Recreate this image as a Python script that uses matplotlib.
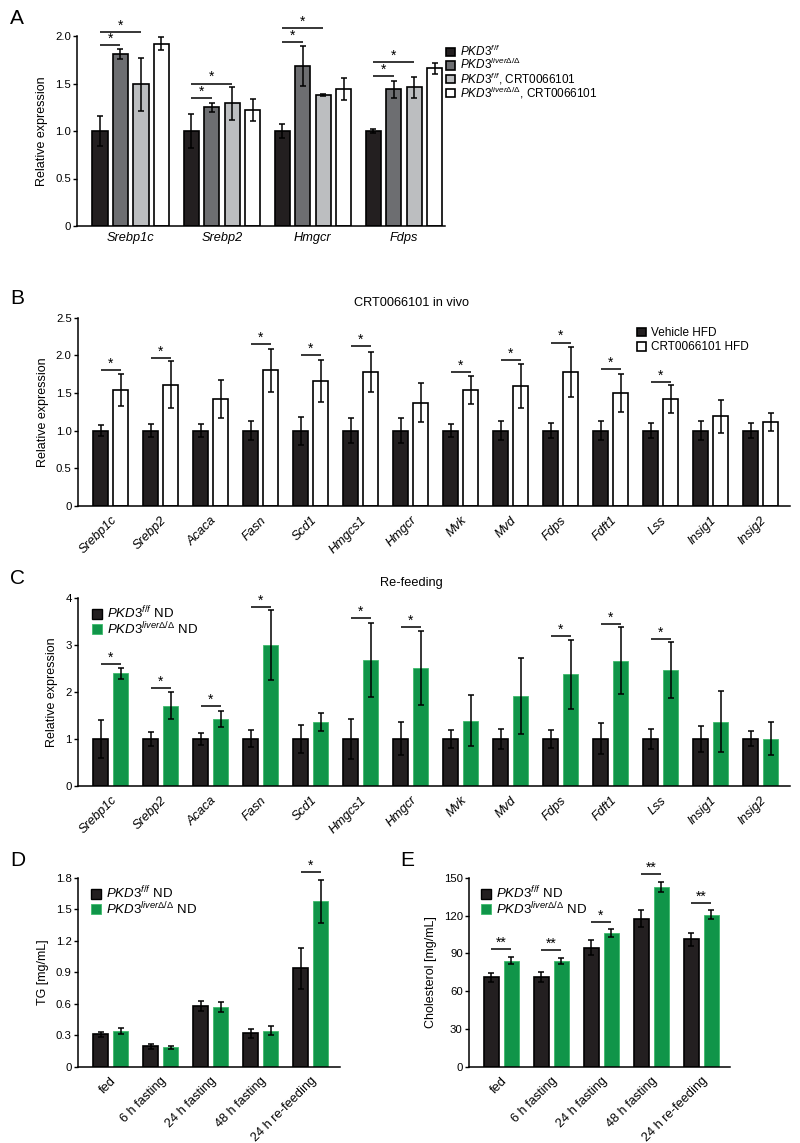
import numpy as np
import matplotlib
matplotlib.use("Agg")
import matplotlib.pyplot as plt
from matplotlib.patches import Patch

plt.rcParams['font.family'] = ['Liberation Sans', 'DejaVu Sans']
plt.rcParams['mathtext.fontset'] = 'custom'
plt.rcParams['mathtext.rm'] = 'Liberation Sans'
plt.rcParams['mathtext.it'] = 'Liberation Sans:italic'
plt.rcParams['mathtext.bf'] = 'Liberation Sans:bold'

DARK = '#231f20'
GRAY = '#6d6e71'
LIGHT = '#bcbec0'
GREEN = '#109549'
GREEN_EDGE = '#3dbb6c'

FF = r'$\mathit{PKD3}^{f/f}$'
LD = r'$\mathit{PKD3}^{\mathit{liver}\Delta/\Delta}$'

# --- panel A -----------------------------------------------------------------
a_genes = ['Srebp1c', 'Srebp2', 'Hmgcr', 'Fdps']
a_groups = [FF, LD, FF + ', CRT0066101', LD + ', CRT0066101']
a_mean = [[1.00, 1.00, 1.00, 1.00],
          [1.81, 1.25, 1.68, 1.44],
          [1.49, 1.29, 1.38, 1.46],
          [1.92, 1.22, 1.44, 1.66]]
a_err = [[0.16, 0.18, 0.07, 0.02],
         [0.05, 0.05, 0.21, 0.09],
         [0.28, 0.17, 0.01, 0.11],
         [0.07, 0.12, 0.115, 0.06]]
a_sig_gene = [0, 0, 1, 1, 2, 2, 3, 3]
a_sig_bar = [1, 2, 1, 2, 1, 2, 1, 2]
a_sig_y = [1.905, 2.046, 1.344, 1.50, 1.94, 2.08, 1.58, 1.726]

# --- panels B and C ----------------------------------------------------------
genes = ['Srebp1c', 'Srebp2', 'Acaca', 'Fasn', 'Scd1', 'Hmgcs1', 'Hmgcr',
         'Mvk', 'Mvd', 'Fdps', 'Fdft1', 'Lss', 'Insig1', 'Insig2']

b_veh = [1.0, 1.0, 1.0, 1.0, 1.0, 1.0, 1.0, 1.0, 1.0, 1.0, 1.0, 1.0, 1.0, 1.0]
b_veh_err = [0.075, 0.09, 0.09, 0.13, 0.185, 0.17, 0.17, 0.09, 0.13, 0.10,
             0.13, 0.10, 0.13, 0.10]
b_crt = [1.54, 1.61, 1.42, 1.80, 1.66, 1.78, 1.37, 1.54, 1.59, 1.78, 1.50,
         1.42, 1.19, 1.12]
b_crt_err = [0.21, 0.31, 0.255, 0.29, 0.28, 0.27, 0.26, 0.185, 0.295, 0.33,
             0.255, 0.18, 0.22, 0.12]
b_sig_gene = [0, 1, 3, 4, 5, 7, 8, 9, 10, 11]
b_sig_y = [1.81, 1.97, 2.15, 2.00, 2.12, 1.78, 1.94, 2.17, 1.82, 1.65]

c_ff = [1.0, 1.0, 1.0, 1.0, 1.0, 1.0, 1.0, 1.0, 1.0, 1.0, 1.0, 1.0, 1.0, 1.0]
c_ff_err = [0.41, 0.14, 0.12, 0.18, 0.30, 0.42, 0.35, 0.20, 0.22, 0.20,
            0.33, 0.22, 0.27, 0.16]
c_ko = [2.39, 1.71, 1.43, 2.99, 1.36, 2.67, 2.51, 1.39, 1.91, 2.37, 2.66,
        2.46, 1.37, 1.00]
c_ko_err = [0.12, 0.29, 0.17, 0.74, 0.19, 0.79, 0.79, 0.54, 0.81, 0.73,
            0.71, 0.59, 0.64, 0.35]
c_sig_gene = [0, 1, 2, 3, 5, 6, 9, 10, 11]
c_sig_y = [2.59, 2.09, 1.70, 3.81, 3.56, 3.38, 3.18, 3.45, 3.13]

# --- panels D and E ----------------------------------------------------------
conds = ['fed', '6 h fasting', '24 h fasting', '48 h fasting', '24 h re-feeding']
d_ff = [0.308, 0.194, 0.578, 0.317, 0.937]
d_ff_err = [0.027, 0.022, 0.043, 0.04, 0.195]
d_ko = [0.337, 0.184, 0.565, 0.343, 1.575]
d_ko_err = [0.03, 0.015, 0.047, 0.04, 0.205]
d_sig_cond = [4]
d_sig_y = [1.854]
d_sig_lab = ['*']

e_ff = [70.9, 71.4, 94.6, 117.4, 101.0]
e_ff_err = [3.8, 3.9, 5.6, 6.8, 5.0]
e_ko = [84.1, 83.6, 105.8, 142.3, 120.6]
e_ko_err = [2.9, 2.4, 3.2, 4.0, 3.7]
e_sig_cond = [0, 1, 2, 3, 4]
e_sig_y = [93.1, 92.6, 114.6, 152.9, 130.2]
e_sig_lab = ['**', '**', '*', '**', '**']

TICK = 8.2
XLAB = 9.2


def style(ax, yticks, ylabels, ylabel, xmin, xmax):
    ax.spines['top'].set_visible(False)
    ax.spines['right'].set_visible(False)
    ax.spines['left'].set_linewidth(1.1)
    ax.spines['bottom'].set_linewidth(1.1)
    ax.set_ylim(yticks[0], yticks[-1])
    ax.set_yticks(yticks)
    ax.set_yticklabels(ylabels, fontsize=TICK)
    ax.set_xlim(xmin, xmax)
    ax.tick_params(axis='y', length=3, width=1, pad=1.5)
    ax.tick_params(axis='x', length=0)
    ax.set_ylabel(ylabel, fontsize=9, labelpad=5)


def sig(ax, x0, x1, y, label='*'):
    ax.plot([x0, x1], [y, y], color='black', lw=1.1, clip_on=False,
            solid_capstyle='butt')
    ax.annotate(label, ((x0 + x1) / 2, y), xytext=(0, -0.5),
                textcoords='offset points', ha='center', va='bottom',
                fontsize=10, annotation_clip=False)


def bars(ax, x, mean, err, color, edge, width, lw):
    ax.bar(x, mean, width=width, color=color, edgecolor=edge, linewidth=lw,
           zorder=2)
    ax.errorbar(x, mean, yerr=err, fmt='none', ecolor='black',
                elinewidth=1.1, capsize=2.2, capthick=1.1, zorder=3)


def legend(ax, handles, labels, x, y, size=8.5, spacing=0.2):
    ax.legend(handles, labels, loc='upper left', bbox_to_anchor=(x, y),
              bbox_transform=ax.figure.transFigure, frameon=False,
              fontsize=size, handlelength=0.75, handleheight=0.75,
              handletextpad=0.4, labelspacing=spacing, borderpad=0,
              borderaxespad=0)


fig = plt.figure(figsize=(8, 11.43), dpi=100)
W, H = 800.0, 1143.0


def axes_px(left, right, top, bottom):
    return fig.add_axes([left / W, 1 - bottom / H, (right - left) / W,
                         (bottom - top) / H])


# ---- A ----
ax = axes_px(77, 445, 36, 226)
xa = np.arange(len(a_genes))
a_colors = [DARK, GRAY, LIGHT, 'white']
a_off = [-0.3375, -0.1125, 0.1125, 0.3375]
for i in range(4):
    bars(ax, xa + a_off[i], a_mean[i], a_err[i], a_colors[i], 'black',
         0.165, 1.2)
for g, b, y in zip(a_sig_gene, a_sig_bar, a_sig_y):
    sig(ax, g + a_off[0], g + a_off[b], y)
style(ax, [0, 0.5, 1.0, 1.5, 2.0], ['0', '0.5', '1.0', '1.5', '2.0'],
      'Relative expression', -0.59, 3.45)
ax.set_xticks(xa)
ax.set_xticklabels(a_genes, style='italic', fontsize=XLAB)
ax.tick_params(axis='x', pad=4)
legend(ax, [Patch(facecolor=c, edgecolor='black', linewidth=1.2)
            for c in a_colors], a_groups, 446 / W, 1 - 44 / H, 8.5, -0.17)


def two_bar_panel(ax, names, m1, e1, m2, e2, c2, edge2, lw2):
    x = np.arange(len(names))
    bars(ax, x - 0.2, m1, e1, DARK, 'black', 0.3, 1.2)
    bars(ax, x + 0.2, m2, e2, c2, edge2, 0.3, lw2)
    ax.set_xticks(x)
    ax.set_xticklabels(names, rotation=45, ha='right',
                       rotation_mode='anchor', fontsize=XLAB)
    ax.tick_params(axis='x', pad=6)


# ---- B ----
ax = axes_px(78, 790, 317.7, 506)
two_bar_panel(ax, genes, b_veh, b_veh_err, b_crt, b_crt_err, 'white',
              'black', 1.2)
for lab in ax.get_xticklabels():
    lab.set_style('italic')
for g, y in zip(b_sig_gene, b_sig_y):
    sig(ax, g - 0.2, g + 0.2, y)
style(ax, [0, 0.5, 1.0, 1.5, 2.0, 2.5], ['0', '0.5', '1.0', '1.5', '2.0', '2.5'],
      'Relative expression', -0.65, 13.59)
legend(ax, [Patch(facecolor=DARK, edgecolor='black', linewidth=1.2),
            Patch(facecolor='white', edgecolor='black', linewidth=1.2)],
       ['Vehicle HFD', 'CRT0066101 HFD'], 637 / W, 1 - 327 / H)
fig.text(411 / W, 1 - 303 / H, 'CRT0066101 in vivo', ha='center',
         va='center', fontsize=9.2)

# ---- C ----
ax = axes_px(78, 790, 597.7, 786)
two_bar_panel(ax, genes, c_ff, c_ff_err, c_ko, c_ko_err, GREEN, GREEN_EDGE,
              0.6)
for lab in ax.get_xticklabels():
    lab.set_style('italic')
for g, y in zip(c_sig_gene, c_sig_y):
    sig(ax, g - 0.2, g + 0.2, y)
style(ax, [0, 1, 2, 3, 4], ['0', '1', '2', '3', '4'],
      'Relative expression', -0.65, 13.59)
green_handles = [Patch(facecolor=DARK, edgecolor='black', linewidth=1.0),
                 Patch(facecolor=GREEN, edgecolor=GREEN_EDGE, linewidth=0.6)]
green_labels = [FF + ' ND', LD + ' ND']
legend(ax, green_handles, green_labels, 92 / W, 1 - 605 / H, 9.5, -0.1)
fig.text(411 / W, 1 - 583 / H, 'Re-feeding', ha='center', va='center',
         fontsize=9.2)

# ---- D ----
ax = axes_px(78, 340, 877.7, 1066.7)
two_bar_panel(ax, conds, d_ff, d_ff_err, d_ko, d_ko_err, GREEN, GREEN_EDGE,
              0.6)
for c, y, l in zip(d_sig_cond, d_sig_y, d_sig_lab):
    sig(ax, c - 0.2, c + 0.2, y, l)
style(ax, [0, 0.3, 0.6, 0.9, 1.2, 1.5, 1.8],
      ['0', '0.3', '0.6', '0.9', '1.2', '1.5', '1.8'],
      'TG [mg/mL]', -0.65, 4.59)
legend(ax, green_handles, green_labels, 91 / W, 1 - 885 / H, 9.5, -0.1)

# ---- E ----
ax = axes_px(469, 730, 877.7, 1066.7)
two_bar_panel(ax, conds, e_ff, e_ff_err, e_ko, e_ko_err, GREEN, GREEN_EDGE,
              0.6)
for c, y, l in zip(e_sig_cond, e_sig_y, e_sig_lab):
    sig(ax, c - 0.2, c + 0.2, y, l)
style(ax, [0, 30, 60, 90, 120, 150], ['0', '30', '60', '90', '120', '150'],
      'Cholesterol [mg/mL]', -0.64, 4.58)
legend(ax, green_handles, green_labels, 481 / W, 1 - 885 / H, 9.5, -0.1)

# panel letters
for lab, x, y in [('A', 10, 18), ('B', 10, 298), ('C', 10, 578),
                  ('D', 10, 860), ('E', 400, 860)]:
    fig.text(x / W, 1 - y / H, lab, fontsize=15, ha='left', va='center')

fig.savefig('out.png', dpi=100)
